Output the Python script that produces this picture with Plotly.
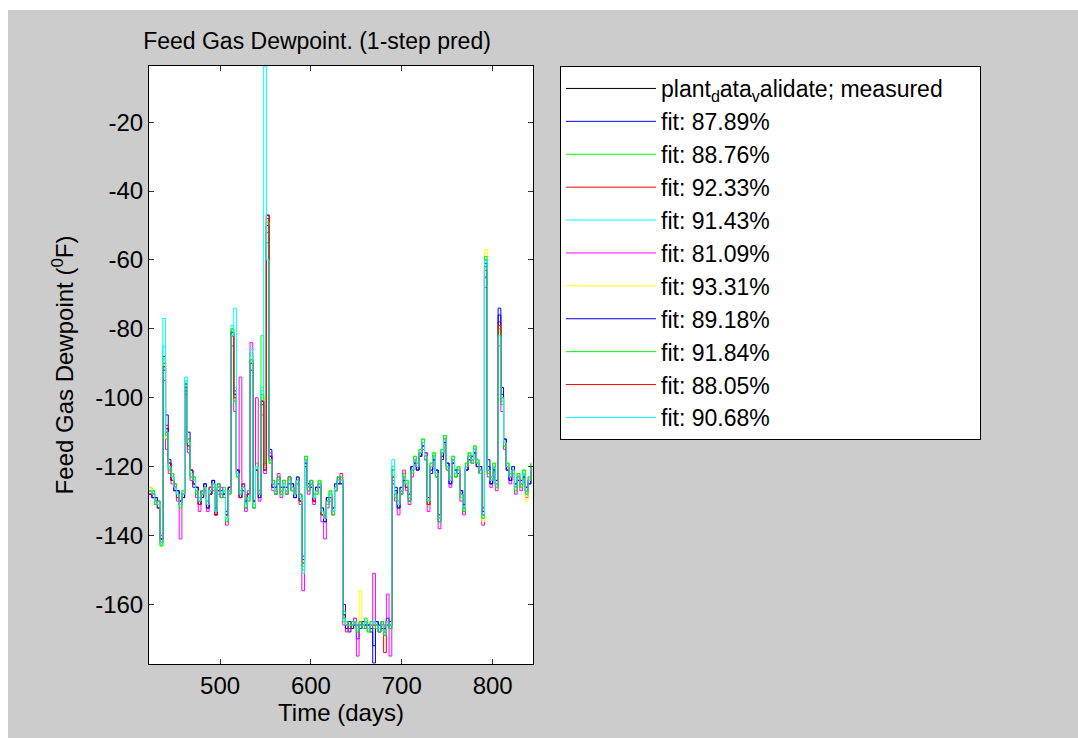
import plotly.graph_objects as go

days = [422, 425, 428, 431, 434, 437, 440, 443, 446, 449,
        452, 455, 458, 461, 464, 467, 470, 473, 476, 479,
        482, 485, 488, 491, 494, 497, 500, 503, 506, 509,
        512, 515, 518, 521, 524, 527, 530, 533, 536, 539,
        542, 545, 548, 551, 554, 557, 560, 563, 566, 569,
        572, 575, 578, 581, 584, 587, 590, 593, 596, 599,
        602, 605, 608, 611, 614, 617, 620, 623, 626, 629,
        632, 635, 638, 641, 644, 647, 650, 653, 656, 659,
        662, 665, 668, 671, 674, 677, 680, 683, 686, 689,
        692, 695, 698, 701, 704, 707, 710, 713, 716, 719,
        722, 725, 728, 731, 734, 737, 740, 743, 746, 749,
        752, 755, 758, 761, 764, 767, 770, 773, 776, 779,
        782, 785, 788, 791, 794, 797, 800, 803, 806, 809,
        812, 815, 818, 821, 824, 827, 830, 833, 836, 839,
        842]

measured = [-127, -128, -130, -131, -142, -88, -112, -120, -123, -126,
            -128, -131, -128, -95, -113, -122, -124, -127, -130, -128,
            -126, -131, -127, -125, -133, -126, -128, -127, -135, -127,
            -80, -100, -122, -128, -126, -131, -129, -88, -131, -120,
            -128, -100, -120, -47, -118, -125, -127, -124, -127, -125,
            -127, -124, -126, -128, -124, -129, -148, -118, -126, -125,
            -129, -127, -125, -133, -135, -130, -128, -133, -126, -124,
            -124, -164, -166, -166, -166, -165, -167, -166, -166, -165,
            -167, -166, -165, -166, -167, -166, -168, -165, -166, -122,
            -128, -131, -127, -123, -125, -129, -121, -118, -120, -116,
            -113, -117, -130, -120, -117, -122, -135, -116, -112, -120,
            -124, -118, -122, -121, -128, -132, -120, -117, -118, -115,
            -119, -121, -134, -60, -121, -124, -120, -125, -80, -100,
            -113, -120, -123, -121, -126, -123, -125, -122, -127, -124,
            -120]

fit_blue_1 = [-127, -129, -130, -132, -141, -92, -105, -118, -124, -126,
              -127, -130, -129, -98, -110, -121, -126, -126, -131, -127,
              -125, -132, -128, -124, -134, -125, -129, -128, -133, -126,
              -82, -98, -121, -129, -125, -132, -128, -92, -130, -121,
              -127, -102, -119, -55, -115, -124, -128, -123, -126, -126,
              -128, -123, -125, -129, -125, -128, -146, -120, -127, -124,
              -130, -126, -126, -134, -136, -129, -129, -132, -127, -123,
              -125, -160, -167, -168, -165, -166, -170, -165, -167, -166,
              -166, -168, -177, -165, -168, -165, -169, -164, -167, -125,
              -126, -132, -128, -122, -126, -130, -120, -119, -121, -117,
              -114, -116, -129, -122, -118, -121, -136, -118, -113, -119,
              -125, -119, -121, -122, -127, -133, -121, -118, -117, -116,
              -120, -122, -132, -65, -118, -125, -121, -124, -74, -97,
              -112, -121, -124, -122, -125, -124, -124, -123, -126, -125,
              -121]

fit_green_1 = [-126, -128, -131, -130, -143, -90, -110, -121, -122, -127,
               -128, -131, -127, -96, -115, -123, -123, -128, -129, -129,
               -127, -130, -126, -126, -132, -127, -127, -126, -136, -128,
               -81, -101, -123, -127, -127, -130, -130, -90, -132, -119,
               -129, -82, -121, -50, -119, -126, -126, -125, -128, -124,
               -126, -125, -127, -127, -123, -130, -150, -117, -125, -126,
               -128, -128, -124, -132, -134, -131, -127, -134, -125, -125,
               -123, -162, -165, -167, -167, -164, -168, -167, -165, -166,
               -168, -165, -167, -167, -166, -167, -167, -166, -165, -120,
               -129, -130, -126, -124, -124, -128, -122, -117, -119, -115,
               -112, -118, -131, -119, -116, -123, -134, -115, -111, -121,
               -123, -117, -123, -120, -129, -131, -119, -116, -119, -114,
               -118, -120, -135, -62, -122, -123, -119, -126, -82, -102,
               -114, -119, -122, -120, -127, -122, -126, -121, -128, -123,
               -119]

fit_red_1 = [-128, -127, -129, -131, -141, -90, -108, -119, -124, -125,
             -129, -130, -128, -97, -112, -122, -125, -126, -131, -127,
             -126, -132, -126, -125, -134, -127, -128, -128, -134, -126,
             -82, -99, -121, -128, -125, -131, -128, -90, -131, -121,
             -128, -101, -120, -48, -117, -125, -127, -124, -127, -125,
             -127, -124, -126, -128, -124, -129, -149, -118, -126, -125,
             -129, -127, -125, -133, -135, -130, -128, -133, -126, -124,
             -124, -163, -166, -166, -166, -165, -167, -166, -166, -165,
             -167, -166, -165, -166, -167, -166, -174, -165, -166, -123,
             -128, -131, -127, -123, -125, -129, -121, -118, -120, -116,
             -113, -117, -131, -120, -117, -122, -135, -116, -112, -120,
             -124, -118, -122, -121, -128, -132, -120, -117, -118, -115,
             -119, -121, -134, -62, -121, -124, -120, -125, -78, -100,
             -113, -120, -123, -121, -126, -123, -125, -122, -127, -124,
             -120]

fit_cyan_1 = [-127, -128, -130, -131, -142, -85, -110, -120, -123, -126,
              -128, -131, -128, -94, -113, -122, -124, -127, -130, -128,
              -126, -131, -127, -125, -133, -126, -128, -127, -135, -127,
              -79, -97, -122, -128, -126, -131, -129, -87, -131, -120,
              -128, -98, -120, -55, -118, -125, -127, -124, -127, -125,
              -127, -124, -126, -128, -124, -129, -148, -118, -126, -125,
              -129, -127, -125, -133, -135, -130, -128, -133, -126, -124,
              -124, -164, -166, -166, -166, -165, -167, -166, -166, -165,
              -167, -166, -165, -166, -167, -166, -168, -165, -166, -122,
              -128, -131, -127, -123, -125, -129, -121, -118, -120, -116,
              -113, -117, -130, -120, -117, -122, -135, -116, -112, -120,
              -124, -118, -122, -121, -128, -132, -120, -117, -118, -115,
              -119, -121, -134, -61, -121, -124, -120, -125, -81, -100,
              -113, -120, -123, -121, -126, -123, -125, -122, -127, -124,
              -120]

fit_magenta_1 = [-127, -129, -131, -130, -140, -95, -115, -122, -125, -127,
                 -130, -141, -128, -99, -116, -124, -125, -129, -133, -127,
                 -127, -133, -126, -127, -132, -128, -126, -129, -137, -128,
                 -85, -104, -122, -94, -125, -133, -127, -84, -132, -100,
                 -130, -105, -122, -52, -116, -127, -128, -122, -129, -124,
                 -128, -123, -127, -127, -125, -131, -156, -119, -128, -126,
                 -131, -126, -126, -136, -141, -132, -130, -134, -127, -125,
                 -122, -166, -168, -165, -167, -164, -175, -166, -165, -167,
                 -166, -167, -151, -166, -168, -167, -166, -157, -175, -124,
                 -130, -134, -128, -121, -127, -131, -123, -119, -121, -117,
                 -115, -116, -133, -121, -118, -123, -138, -117, -113, -121,
                 -126, -119, -123, -122, -130, -134, -121, -118, -119, -116,
                 -120, -122, -137, -68, -123, -126, -121, -127, -85, -104,
                 -115, -121, -125, -122, -128, -124, -127, -123, -129, -125,
                 -121]

fit_yellow_1 = [-126, -128, -130, -131, -142, -89, -112, -120, -123, -126,
                -128, -131, -128, -95, -113, -122, -124, -127, -130, -128,
                -126, -131, -127, -125, -133, -126, -128, -127, -135, -127,
                -80, -100, -122, -128, -126, -131, -129, -88, -131, -120,
                -128, -100, -120, -49, -118, -125, -127, -124, -127, -125,
                -127, -124, -126, -128, -124, -129, -148, -118, -126, -125,
                -129, -127, -125, -133, -135, -130, -128, -133, -126, -124,
                -124, -164, -166, -166, -166, -165, -167, -156, -166, -165,
                -167, -166, -165, -166, -167, -166, -168, -165, -166, -122,
                -128, -131, -127, -123, -125, -129, -121, -118, -120, -116,
                -113, -117, -130, -120, -117, -122, -135, -116, -112, -120,
                -124, -118, -122, -121, -128, -132, -120, -117, -118, -115,
                -119, -121, -136, -57, -121, -124, -120, -125, -80, -100,
                -113, -120, -123, -121, -126, -123, -125, -122, -130, -124,
                -120]

fit_blue_2 = [-128, -129, -129, -132, -141, -91, -109, -119, -124, -127,
              -127, -130, -129, -96, -114, -121, -125, -126, -131, -129,
              -125, -132, -128, -124, -134, -127, -127, -128, -134, -126,
              -81, -99, -121, -129, -127, -130, -128, -89, -130, -121,
              -129, -101, -121, -50, -117, -126, -126, -125, -126, -126,
              -126, -125, -125, -129, -123, -130, -147, -119, -125, -126,
              -130, -126, -126, -132, -136, -129, -129, -132, -125, -125,
              -125, -163, -167, -165, -167, -166, -166, -167, -165, -166,
              -166, -167, -172, -165, -166, -167, -167, -166, -165, -121,
              -127, -132, -126, -124, -126, -128, -120, -119, -121, -117,
              -114, -118, -129, -121, -118, -121, -134, -117, -113, -119,
              -125, -119, -121, -122, -127, -131, -121, -118, -117, -116,
              -120, -120, -133, -61, -120, -125, -121, -124, -76, -99,
              -112, -121, -124, -120, -125, -124, -124, -123, -126, -125,
              -121]

fit_green_2 = [-127, -127, -131, -130, -143, -89, -111, -121, -122, -125,
               -129, -132, -127, -95, -112, -123, -123, -128, -130, -127,
               -127, -130, -127, -126, -133, -125, -129, -127, -136, -128,
               -80, -101, -123, -127, -126, -132, -130, -89, -132, -120,
               -127, -99, -119, -49, -119, -124, -128, -123, -128, -124,
               -128, -123, -127, -127, -125, -128, -149, -117, -127, -124,
               -128, -128, -124, -134, -134, -131, -127, -134, -127, -123,
               -123, -165, -165, -167, -165, -166, -168, -165, -167, -164,
               -168, -165, -166, -167, -168, -165, -169, -166, -167, -121,
               -129, -130, -128, -122, -124, -130, -122, -117, -119, -115,
               -112, -118, -131, -119, -116, -123, -136, -115, -111, -121,
               -123, -117, -123, -120, -129, -133, -119, -116, -119, -114,
               -118, -122, -135, -59, -122, -123, -119, -126, -79, -101,
               -114, -119, -122, -122, -127, -122, -126, -121, -128, -123,
               -119]

fit_red_2 = [-128, -128, -130, -132, -142, -91, -110, -119, -124, -126,
             -129, -131, -128, -97, -114, -121, -125, -127, -131, -128,
             -126, -131, -128, -125, -134, -126, -128, -128, -134, -127,
             -82, -100, -122, -129, -126, -131, -128, -90, -130, -121,
             -128, -101, -121, -47, -118, -125, -127, -124, -127, -126,
             -127, -124, -126, -128, -124, -130, -148, -118, -126, -125,
             -130, -127, -125, -134, -135, -130, -129, -133, -126, -124,
             -124, -164, -166, -167, -166, -165, -167, -166, -166, -165,
             -167, -166, -166, -166, -167, -166, -168, -165, -166, -123,
             -128, -131, -127, -123, -126, -129, -121, -118, -120, -116,
             -113, -117, -131, -120, -117, -122, -135, -116, -112, -120,
             -124, -118, -122, -121, -128, -132, -120, -117, -118, -115,
             -119, -121, -134, -63, -121, -124, -120, -125, -79, -100,
             -113, -120, -123, -121, -126, -123, -125, -122, -127, -124,
             -120]

fit_cyan_2 = [-127, -128, -130, -131, -142, -77, -110, -120, -123, -126,
              -128, -131, -128, -95, -113, -122, -124, -127, -130, -128,
              -126, -131, -127, -125, -133, -126, -128, -127, -135, -127,
              -82, -74, -122, -128, -126, -131, -129, -86, -131, -120,
              -128, -97, -3.7, -60, -118, -125, -127, -124, -127, -125,
              -127, -124, -126, -128, -124, -129, -151, -118, -126, -125,
              -129, -127, -125, -133, -135, -130, -128, -133, -126, -124,
              -124, -164, -166, -166, -166, -165, -167, -166, -166, -165,
              -167, -166, -165, -166, -167, -166, -168, -165, -166, -118,
              -128, -131, -127, -123, -125, -129, -121, -118, -120, -116,
              -113, -117, -130, -120, -117, -122, -135, -116, -112, -120,
              -124, -118, -122, -121, -128, -132, -120, -117, -118, -115,
              -119, -121, -134, -60, -121, -124, -120, -125, -82, -100,
              -113, -120, -123, -121, -126, -123, -125, -122, -127, -124,
              -120]

series_names = ["plant<sub>d</sub>ata<sub>v</sub>alidate; measured\u00a0\u00a0\u00a0\u00a0\u00a0",
                "fit: 87.89%", "fit: 88.76%", "fit: 92.33%", "fit: 91.43%",
                "fit: 81.09%", "fit: 93.31%", "fit: 89.18%", "fit: 91.84%",
                "fit: 88.05%", "fit: 90.68%"]
series_colors = ["#000000", "#0000FF", "#00FF00", "#FF0000", "#00FFFF",
                 "#FF00FF", "#FFFF00", "#0000FF", "#00FF00", "#FF0000", "#00FFFF"]
series_values = [measured, fit_blue_1, fit_green_1, fit_red_1, fit_cyan_1,
                 fit_magenta_1, fit_yellow_1, fit_blue_2, fit_green_2,
                 fit_red_2, fit_cyan_2]

x_ticks = [500, 600, 700, 800]
x_tick_labels = ["500", "600", "700", "800"]
y_ticks = [-160, -140, -120, -100, -80, -60, -40, -20]
y_tick_labels = ["-160", "-140", "-120", "-100", "-80", "-60", "-40", "-20"]

for s in series_values:
    assert len(s) == len(days), len(s)

FONT = "Liberation Sans, Arial, sans-serif"
W, H = 1078, 738
L, R, T, B = 149, 533, 66, 664

fig = go.Figure()
for name, col, vals in zip(series_names, series_colors, series_values):
    fig.add_trace(go.Scatter(x=days, y=vals, name=name, mode="lines",
                             line=dict(color=col, width=1, shape="hv")))

def px(xp):
    return (xp - L) / (R - L)

def py(yp):
    return (B - yp) / (B - T)

axis_common = dict(showgrid=False, zeroline=False, showline=True, linecolor="black",
                   linewidth=1, mirror="allticks", ticks="inside", ticklen=5,
                   tickcolor="#333333", tickfont=dict(family=FONT, size=24, color="black"))

fig.update_layout(
    width=W, height=H,
    margin=dict(l=L, r=W - R, t=T, b=H - B, pad=0),
    paper_bgcolor="#CCCCCC", plot_bgcolor="white",
    font=dict(family=FONT, size=23, color="black"),
    title=dict(text="Feed Gas Dewpoint. (1-step pred)", xref="paper", x=px(317),
               xanchor="center", yref="container", y=1 - 41 / H, yanchor="middle",
               font=dict(family=FONT, size=23, color="black")),
    xaxis=dict(range=[421.8, 844.4], tickvals=x_ticks, ticktext=x_tick_labels,
               title=dict(text="Time (days)", standoff=6,
                          font=dict(family=FONT, size=24, color="black")),
               **axis_common),
    yaxis=dict(range=[-177.3, -3.7], tickvals=y_ticks, ticktext=y_tick_labels,
               title=dict(text="Feed Gas Dewpoint (<sup>0</sup>F)", standoff=14,
                          font=dict(family=FONT, size=24, color="black")),
               **axis_common),
    legend=dict(x=px(560), y=py(66), xanchor="left", yanchor="top",
                bgcolor="white", bordercolor="black", borderwidth=1,
                font=dict(family=FONT, size=23, color="black"),
                tracegroupgap=0, itemwidth=90),
    shapes=[
        dict(type="rect", xref="paper", yref="paper", x0=px(0), x1=px(8),
             y0=py(H), y1=py(0), fillcolor="white", line=dict(width=0), layer="below"),
        dict(type="rect", xref="paper", yref="paper", x0=px(0), x1=px(W),
             y0=py(10), y1=py(0), fillcolor="white", line=dict(width=0), layer="below"),
    ],
)

fig.write_html("out.html")
